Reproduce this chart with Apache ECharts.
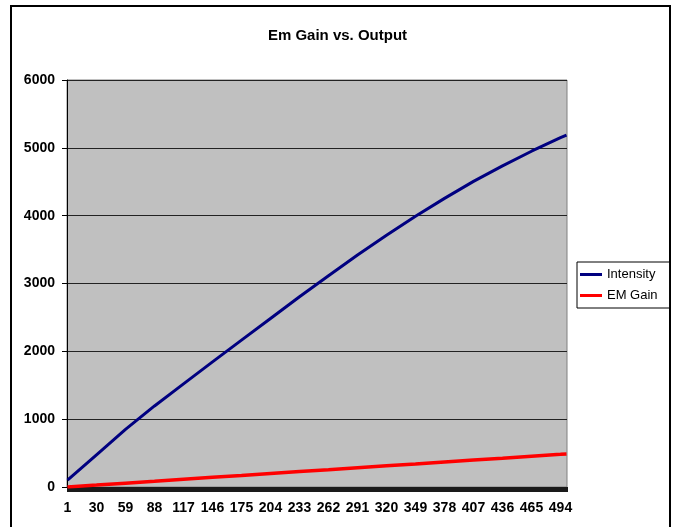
<!DOCTYPE html>
<html>
<head>
<meta charset="utf-8">
<script src="https://cdn.jsdelivr.net/npm/echarts@6/dist/echarts.min.js"></script>
<style>html,body{margin:0;padding:0;background:#fff}#c{width:675px;height:527px}</style>
</head>
<body>
<div id="c"></div>
<script>
// Category axis: sample numbers 1..500
var categoryCount = 500;
var categories = [];
for (var n = 1; n <= categoryCount; n++) categories.push(String(n));

// Values at these categories
var sampleX   = [1, 30, 59, 88, 117, 146, 175, 204, 233, 262, 291, 320, 349, 378, 407, 436, 465, 494, 500];
var intensity = [100, 475, 850, 1195, 1520, 1845, 2165, 2485, 2805, 3115, 3420, 3710, 3990, 4255, 4505, 4735, 4950, 5150, 5189];
var emGain    = [0, 28, 57, 85, 114, 142, 170, 199, 227, 255, 284, 312, 340, 369, 397, 425, 454, 482, 488];

var yTicks = [0, 1000, 2000, 3000, 4000, 5000, 6000];

function pairs(vals) {
  return vals.map(function (v, k) { return [String(sampleX[k]), v]; });
}

var chart = echarts.init(document.getElementById('c'), null, {renderer: 'canvas'});
var font = 'Liberation Sans, Arial, sans-serif';
chart.setOption({
  animation: false,
  backgroundColor: '#ffffff',
  title: {
    text: 'Em Gain vs. Output',
    left: 'center',
    top: 23,
    textStyle: {fontFamily: font, fontSize: 15, fontWeight: 'bold', color: '#000'}
  },
  graphic: [{
    type: 'rect',
    shape: {x: 11, y: 6, width: 659, height: 600},
    style: {fill: null, stroke: '#000', lineWidth: 2},
    silent: true,
    z: -1
  }],
  legend: {
    orient: 'vertical',
    left: 577,
    top: 262,
    padding: [6, 12, 6, 3],
    itemGap: 8,
    itemWidth: 22,
    itemHeight: 3,
    icon: 'rect',
    backgroundColor: '#fff',
    borderColor: '#000',
    borderWidth: 1,
    textStyle: {fontFamily: font, fontSize: 13, color: '#000'},
    data: ['Intensity', 'EM Gain']
  },
  grid: {
    left: 67, top: 80, right: 108, bottom: 40,
    show: true,
    backgroundColor: '#c0c0c0',
    borderColor: '#808080',
    borderWidth: 1
  },
  xAxis: {
    type: 'category',
    data: categories,
    boundaryGap: true,
    axisLine: {show: true, lineStyle: {color: '#000', width: 1}},
    axisTick: {show: true, interval: 0, length: 5, lineStyle: {color: '#1a1a1a', width: 1}},
    axisLabel: {
      interval: 28,
      margin: 14,
      fontFamily: font, fontSize: 14, fontWeight: 'bold', color: '#000'
    },
    splitLine: {show: false}
  },
  yAxis: {
    type: 'value',
    min: yTicks[0],
    max: yTicks[yTicks.length - 1],
    interval: 1000,
    axisLine: {show: true, lineStyle: {color: '#000', width: 1}},
    axisTick: {show: true, length: 5, lineStyle: {color: '#000'}},
    axisLabel: {
      margin: 12, fontFamily: font, fontSize: 14, fontWeight: 'bold', color: '#000',
      formatter: function (v) { return String(v); }
    },
    splitLine: {show: true, lineStyle: {color: '#222', width: 1}}
  },
  series: [
    {
      name: 'Intensity',
      type: 'line',
      data: pairs(intensity),
      symbol: 'none',
      smooth: false,
      lineStyle: {color: '#000080', width: 3},
      itemStyle: {color: '#000080'},
      z: 3
    },
    {
      name: 'EM Gain',
      type: 'line',
      data: pairs(emGain),
      symbol: 'none',
      lineStyle: {color: '#ff0000', width: 3.5},
      itemStyle: {color: '#ff0000'},
      z: 2
    }
  ]
});
</script>
</body>
</html>
